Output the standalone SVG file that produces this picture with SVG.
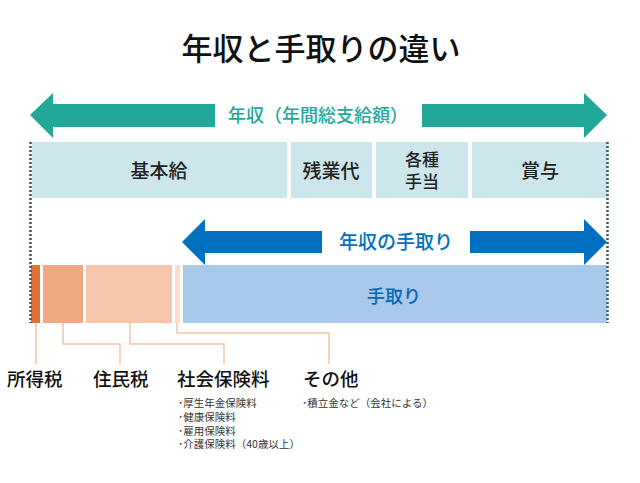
<svg xmlns="http://www.w3.org/2000/svg" width="640" height="483" viewBox="0 0 640 483">
<style>
text{font-family:"Noto Sans CJK JP","Noto Sans",sans-serif;}
.title{font-size:31px;font-weight:500;fill:#111;}
.bar{fill:#cde6ec;}
.lbl{font-size:19px;font-weight:500;fill:#222;text-anchor:middle;}
.lbl2{font-size:17px;font-weight:500;fill:#222;text-anchor:middle;}
.cat{font-size:18.5px;font-weight:500;fill:#111;}
.small{font-size:10.5px;fill:#333;}
.conn{fill:none;stroke:#f5c5aa;stroke-width:1.5;}
.dot{stroke:#35566f;stroke-width:2.5;stroke-dasharray:2 2;}
</style>
<rect width="640" height="483" fill="#fff"/>
<text class="title" x="321" y="60" text-anchor="middle">年収と手取りの違い</text>

<g id="annual-arrow">
<polygon points="30,115 53,93 53,104 215,104 215,127 53,127 53,138" fill="#22a898"/>
<polygon points="607,115 584,93 584,104 422,104 422,127 584,127 584,138" fill="#22a898"/>
<text x="318" y="122" font-size="18" fill="#22a898" text-anchor="middle" font-weight="500">年収（年間総支給額）</text>
</g>

<g id="kihonkyu"><rect class="bar" x="32" y="142" width="255" height="56"/><text class="lbl" x="159" y="178">基本給</text></g>
<g id="zangyodai"><rect class="bar" x="291" y="142" width="81" height="56"/><text class="lbl" x="331" y="178">残業代</text></g>
<g id="teate"><rect class="bar" x="376" y="142" width="92" height="56"/><text class="lbl2" x="422" y="166">各種</text><text class="lbl2" x="422" y="188">手当</text></g>
<g id="shoyo"><rect class="bar" x="472" y="142" width="135" height="56"/><text class="lbl" x="540" y="178">賞与</text></g>

<g id="takehome-arrow">
<polygon points="182,242 205,219 205,231 322,231 322,253 205,253 205,265" fill="#0070c0"/>
<polygon points="607,242 584,219 584,231 470,231 470,253 584,253 584,265" fill="#0070c0"/>
<text x="396" y="249" font-size="19" fill="#0070c0" text-anchor="middle" font-weight="500">年収の手取り</text>
</g>

<g id="shotokuzei-bar"><rect x="31" y="265" width="9" height="58" fill="#e07035"/></g>
<g id="juminzei-bar"><rect x="43" y="265" width="40" height="58" fill="#eea882"/></g>
<g id="shakai-bar"><rect x="86" y="265" width="86" height="58" fill="#f5c6ab"/></g>
<g id="sonota-bar"><rect x="175" y="265" width="5" height="58" fill="#fbdccb"/></g>
<g id="tedori"><rect x="183" y="265" width="424" height="58" fill="#a8c9ea"/><text x="394" y="303" font-size="18" fill="#0a66b5" text-anchor="middle" font-weight="500">手取り</text></g>

<line class="dot" x1="30.5" y1="142" x2="30.5" y2="323"/>
<line class="dot" x1="607.5" y1="142" x2="607.5" y2="323"/>

<g id="connectors">
<path class="conn" d="M36,323 V364"/>
<path class="conn" d="M63,323 V344 H120 V364"/>
<path class="conn" d="M130,323 V344 H224 V364"/>
<path class="conn" d="M177,323 V333 H329 V364"/>
</g>

<g id="label-shotokuzei"><text class="cat" x="7" y="386">所得税</text></g>
<g id="label-juminzei"><text class="cat" x="93" y="386">住民税</text></g>
<g id="label-shakai">
<text class="cat" x="177" y="386">社会保険料</text>
<text class="small" x="178" y="407">･厚生年金保険料</text>
<text class="small" x="178" y="421">･健康保険料</text>
<text class="small" x="178" y="434.5">･雇用保険料</text>
<text class="small" x="178" y="448">･介護保険料（40歳以上）</text>
</g>
<g id="label-sonota">
<text class="cat" x="303" y="386">その他</text>
<text class="small" x="302" y="407">･積立金など（会社による）</text>
</g>
</svg>
